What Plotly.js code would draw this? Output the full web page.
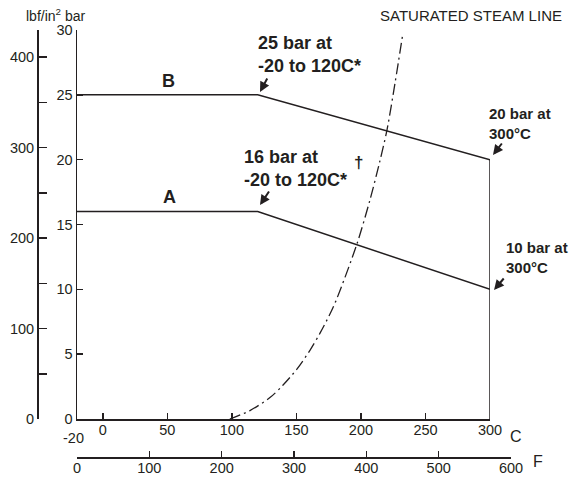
<!DOCTYPE html>
<html>
<head>
<meta charset="utf-8">
<script src="https://cdn.plot.ly/plotly-3.0.1.min.js"></script>
<style>html,body{margin:0;padding:0;background:#fff;}#chart{width:569px;height:477px;}</style>
</head>
<body>
<div id="chart"></div>
<script>
// ---- data ----
var tempC = [-20, 120, 300];
var ratingB = [25, 25, 20];
var ratingA = [16, 16, 10];
var limitTempC = [300, 300];
var limitBar = [0, 20];
var steamTempC = [98.4, 114, 129.5, 139.5, 150.4, 160.5, 168.2, 176, 181.4, 196.9, 207, 214.7, 220.2, 226.4, 232.6];
var steamBar = [0, 0.65, 1.65, 2.6, 3.85, 5.3, 6.6, 8.1, 9.3, 13.5, 16.9, 19.9, 22.3, 25.9, 29.8];
var cTicks = [0, 50, 100, 150, 200, 250, 300];
var barTicks = [0, 5, 10, 15, 20, 25, 30];
var psiTicks = [0, 50, 100, 150, 200, 250, 300, 350, 400];
var psiTickText = ['0', '', '100', '', '200', '', '300', '', '400'];
var fTicks = [0, 100, 200, 300, 400, 500, 600];

// ---- geometry helpers (pixel -> paper) ----
var L = 37, R = 511, T = 30, B = 457;
var W = R - L, H = B - T;
function px(x){ return (x - L) / W; }
function py(y){ return (B - y) / H; }

var ink = '#231f20';
var fam = '"Liberation Sans", Arial, Helvetica, sans-serif';

var traces = [
  {x: tempC, y: ratingB, mode: 'lines', line: {color: ink, width: 1.5}, xaxis: 'x', yaxis: 'y', hoverinfo: 'skip'},
  {x: tempC, y: ratingA, mode: 'lines', line: {color: ink, width: 1.5}, xaxis: 'x', yaxis: 'y', hoverinfo: 'skip'},
  {x: limitTempC, y: limitBar, mode: 'lines', line: {color: ink, width: 1.5}, xaxis: 'x', yaxis: 'y', hoverinfo: 'skip'},
  {x: steamTempC, y: steamBar, mode: 'lines', line: {color: ink, width: 1.3, dash: '11px,4px,2px,4px', shape: 'spline', smoothing: 0.8}, xaxis: 'x', yaxis: 'y', hoverinfo: 'skip'},
  {x: [fTicks[0], fTicks[fTicks.length-1]], y: [0, 0], mode: 'none', xaxis: 'x2', yaxis: 'y2', hoverinfo: 'skip', showlegend: false}
];

function lab(text, x, y, size, bold, anchor, extra){
  var a = {text: bold ? '<b>' + text + '</b>' : text, xref: 'paper', yref: 'paper', x: px(x), y: py(y),
    xanchor: anchor || 'center', yanchor: 'middle', align: 'left', showarrow: false,
    font: {family: fam, size: size, color: ink}};
  if (extra) for (var k in extra) a[k] = extra[k];
  return a;
}
function arrow(hx, hy, ax, ay){
  return {text: '', xref: 'paper', yref: 'paper', x: px(hx), y: py(hy), ax: ax, ay: ay,
    showarrow: true, arrowhead: 2, arrowsize: 1, arrowwidth: 2, arrowcolor: ink};
}

var annotations = [
  lab('lbf/in<sup>2</sup> bar', 24, 15, 14, false, 'left'),
  lab('SATURATED STEAM LINE', 378, 16, 15, false, 'left'),
  lab('B', 168, 81, 18, true),
  lab('A', 169, 197, 18, true),
  lab('25 bar at<br>-20 to 120C*', 256, 55, 18, true, 'left'),
  lab('16 bar at<br>-20 to 120C*', 242, 168, 18, true, 'left'),
  lab('†', 358, 162, 17, true),
  lab('20 bar at<br>300°C', 487, 123, 15, true, 'left'),
  lab('10 bar at<br>300°C', 504, 257, 15, true, 'left'),
  lab('-20', 73, 438, 14.5, false),
  lab('C', 516, 436, 16, false),
  lab('F', 538, 461, 16, false),
  arrow(260, 92, 8, -15),
  arrow(260, 205, 10, -15),
  arrow(493, 155, 10, -13),
  arrow(494, 290, 11, -13)
];

var axisCommon = {showline: true, linecolor: ink, linewidth: 1.5, ticks: 'inside', ticklen: 6, tickwidth: 1.5,
  tickcolor: ink, showgrid: false, zeroline: false, fixedrange: true,
  tickfont: {family: fam, size: 14.5, color: ink}};
function ax(o){ var r = {}; for (var k in axisCommon) r[k] = axisCommon[k]; for (var k2 in o) r[k2] = o[k2]; return r; }

var layout = {
  width: 569, height: 477,
  margin: {l: L, r: 569 - R, t: T, b: 477 - B, pad: 0},
  paper_bgcolor: '#fff', plot_bgcolor: 'rgba(0,0,0,0)',
  showlegend: false,
  font: {family: fam, color: ink},
  xaxis: ax({domain: [px(77), px(490)], range: [-20, 300], anchor: 'y', tickmode: 'array', tickvals: cTicks, ticklabelstandoff: -3}),
  yaxis: ax({domain: [py(419), 1], range: [0, 30], anchor: 'x', tickmode: 'array', tickvals: barTicks}),
  xaxis2: ax({domain: [px(77), 1], range: [0, 600], anchor: 'free', position: 0, tickmode: 'array', tickvals: fTicks, ticklabelstandoff: -3}),
  yaxis2: ax({range: [0, 430], overlaying: 'y', anchor: 'free', position: 0, side: 'left', tickmode: 'array', tickvals: psiTicks, ticktext: psiTickText, ticklen: 8}),
  annotations: annotations
};

Plotly.newPlot('chart', traces, layout, {staticPlot: true, displayModeBar: false});
</script>
</body>
</html>
